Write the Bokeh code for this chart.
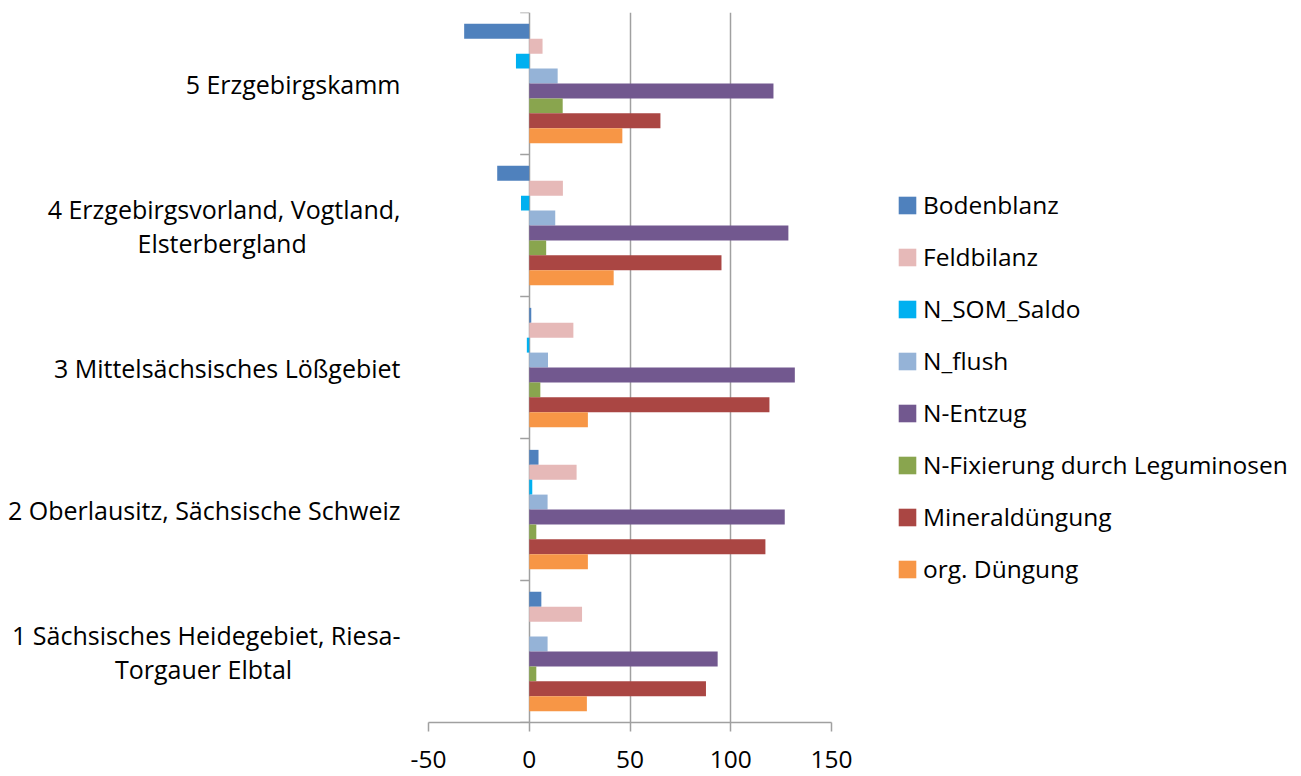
from bokeh.plotting import figure
from bokeh.models import FactorRange, FixedTicker, Legend, LegendItem, ColumnDataSource, CustomJSTickFormatter
from bokeh.transform import dodge
from bokeh.embed import file_html
from bokeh.resources import INLINE

categories = [
    "1 Sächsisches Heidegebiet, Riesa-\nTorgauer Elbtal\u2003\u2003\u2003\u2003\u2004",
    "2 Oberlausitz, Sächsische Schweiz",
    "3 Mittelsächsisches Lößgebiet",
    "4 Erzgebirgsvorland, Vogtland,\nElsterbergland\u2003\u2003\u2003\u2005\u2005\u2005",
    "5 Erzgebirgskamm",
]
series_names = ["Bodenblanz", "Feldbilanz", "N_SOM_Saldo", "N_flush", "N-Entzug",
                "N-Fixierung durch Leguminosen", "Mineraldüngung", "org. Düngung"]
bodenblanz = [6.0, 4.6, 1.0, -15.9, -32.3]
feldbilanz = [26.2, 23.5, 21.9, 16.7, 6.6]
n_som_saldo = [0.0, 1.5, -1.2, -4.1, -6.6]
n_flush = [9.1, 9.1, 9.3, 12.9, 14.1]
n_entzug = [93.5, 126.8, 131.8, 128.6, 121.2]
n_fixierung = [3.5, 3.5, 5.5, 8.4, 16.6]
mineralduengung = [87.7, 117.2, 119.2, 95.4, 65.1]
org_duengung = [28.6, 29.1, 29.1, 41.9, 46.2]
x_ticks = [-50, 0, 50, 100, 150]

colors = ["#4F81BD", "#E6B9B8", "#00B0F0", "#95B3D7", "#72588F", "#89A54E", "#AA4643", "#F79646"]
values = [bodenblanz, feldbilanz, n_som_saldo, n_flush, n_entzug, n_fixierung, mineralduengung, org_duengung]

FONT = "Open Sans"
FS = "24.5px"
BAR_H = 0.105

p = figure(frame_width=403, frame_height=710, y_range=FactorRange(factors=categories, range_padding=0),
           x_range=(-50, 150), output_backend="svg", toolbar_location=None,
           min_border_left=428, min_border_right=0, min_border_top=12, min_border_bottom=53)
p.outline_line_color = None
p.background_fill_color = "white"

data = {"cat": categories}
for i, v in enumerate(values):
    data[f"s{i}"] = v
data["zero"] = [0] * len(categories)
src = ColumnDataSource(data)

renderers = []
for i, (name, col) in enumerate(zip(series_names, colors)):
    off = (3.5 - i) * BAR_H
    r = p.hbar(y=dodge("cat", off, range=p.y_range), left="zero", right=f"s{i}", height=BAR_H,
               source=src, fill_color=col, line_color=None)
    renderers.append(r)

# category axis at zero with boundary ticks
bounds = list(range(len(categories) + 1))
p.segment(x0=[0] * len(bounds), x1=[-4.5] * len(bounds), y0=bounds, y1=bounds,
          line_color="#a0a0a0", line_width=1.5)

p.xaxis.ticker = FixedTicker(ticks=x_ticks)
p.xaxis.formatter = CustomJSTickFormatter(code="return String(tick)")
p.xgrid.ticker = FixedTicker(ticks=x_ticks)
p.xgrid.grid_line_color = "#a0a0a0"
p.xgrid.grid_line_width = 1.5
p.ygrid.grid_line_color = None
p.xaxis.axis_line_color = "#a0a0a0"
p.xaxis.axis_line_width = 1.5
p.xaxis.major_tick_line_color = "#a0a0a0"
p.xaxis.major_tick_line_width = 1.5
p.xaxis.major_tick_out = 9
p.xaxis.major_tick_in = 0
p.xaxis.minor_tick_line_color = None
p.xaxis.major_label_text_font = FONT
p.xaxis.major_label_text_font_size = FS
p.xaxis.major_label_text_color = "#000000"
p.xaxis.major_label_standoff = 19

p.yaxis.axis_line_color = None
p.yaxis.major_tick_line_color = None
p.yaxis.major_tick_out = 0
p.yaxis.major_tick_in = 0
p.yaxis.minor_tick_line_color = None
p.yaxis.major_label_text_font = FONT
p.yaxis.major_label_text_font_size = "25px"
p.yaxis.major_label_text_color = "#000000"
p.yaxis.major_label_standoff = 28
p.yaxis.major_label_text_line_height = 1.0

items = [LegendItem(label=n, renderers=[r]) for n, r in zip(series_names, renderers)]
legend = Legend(items=items, location=(65, 137), orientation="vertical",
                label_text_font=FONT, label_text_font_size=FS, label_text_color="#000000",
                glyph_width=22, glyph_height=22, label_standoff=5, label_height=17,
                spacing=19, padding=0, margin=0, border_line_color=None, background_fill_alpha=0)
p.add_layout(legend, "right")

open("out.html", "w").write(file_html(p, INLINE))
